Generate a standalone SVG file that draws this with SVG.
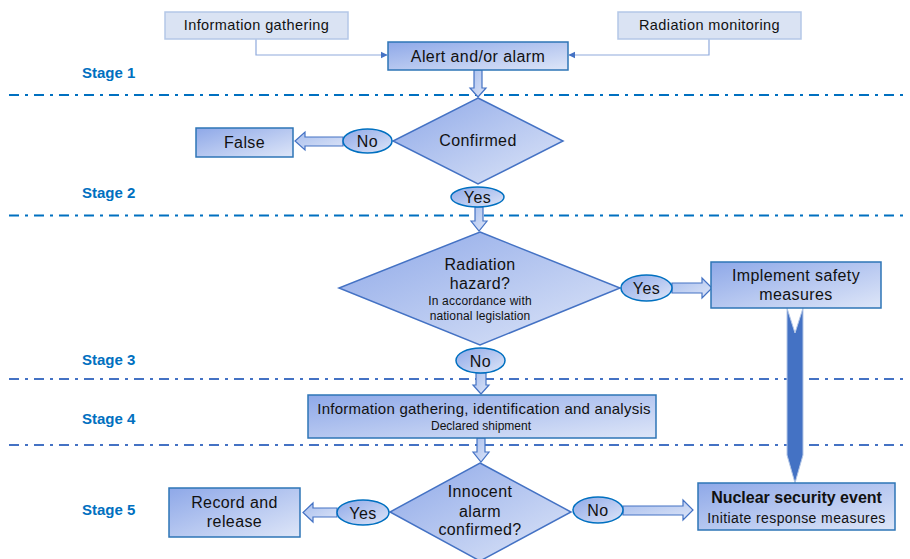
<svg xmlns="http://www.w3.org/2000/svg" width="910" height="559" viewBox="0 0 910 559">
<defs>
<linearGradient id="g" x1="0" y1="0" x2="1" y2="1">
<stop offset="0" stop-color="#8EA8E8"/>
<stop offset="1" stop-color="#DEE6F8"/>
</linearGradient>
<linearGradient id="ga" x1="0" y1="0" x2="1" y2="1">
<stop offset="0" stop-color="#A9BFEE"/>
<stop offset="1" stop-color="#DCE4F7"/>
</linearGradient>
<marker id="ah" viewBox="0 0 10 10" refX="9" refY="5" markerWidth="6" markerHeight="6" orient="auto">
<path d="M0,0 L10,5 L0,10 z" fill="#4472C4"/>
</marker>
<style>
text{font-family:"Liberation Sans",Arial,sans-serif;fill:#111;text-anchor:middle}
.stage{font-weight:bold;fill:#0070C0;font-size:15px;text-anchor:start}
.box{fill:url(#g);stroke:#2E75B6;stroke-width:1.5}
.ell{fill:url(#g);stroke:#0070C0;stroke-width:1.5}
.src{fill:#DAE3F3;stroke:#B4C7E7;stroke-width:1.5}
.dia{fill:url(#g);stroke:#4472C4;stroke-width:1.5}
.blk{fill:url(#ga);stroke:#4472C4;stroke-width:1.2}
.thin{fill:none;stroke:#8FAADC;stroke-width:1.2}
.d1{stroke:#0070C0;stroke-width:2.2;stroke-dasharray:10 6 3 6;fill:none}
.d2{stroke:#4472C4;stroke-width:2.2;stroke-dasharray:10 6 3 6;fill:none}
.t16{font-size:16px;letter-spacing:0.4px}
</style>
</defs>
<rect width="910" height="559" fill="#fff"/>
<g id="stages">
<text class="stage" x="82" y="78">Stage 1</text>
<text class="stage" x="82" y="198">Stage 2</text>
<text class="stage" x="82" y="365">Stage 3</text>
<text class="stage" x="82" y="424">Stage 4</text>
<text class="stage" x="82" y="515">Stage 5</text>
<line class="d1" x1="9" y1="95" x2="905" y2="95"/>
<line class="d1" x1="9" y1="215.5" x2="905" y2="215.5"/>
<line class="d2" x1="9" y1="379" x2="905" y2="379"/>
<line class="d2" x1="9" y1="445" x2="905" y2="445"/>
</g>
<g id="connectors">
<polyline class="thin" points="256,39 256,55 387,55" marker-end="url(#ah)"/>
<polyline class="thin" points="709,39 709,55 569,55" marker-end="url(#ah)"/>
<polygon class="blk" points="474,70 482,70 482,88 486,88 478,97 470,88 474,88"/>
<polygon class="blk" points="343,137 305,137 305,132 295,141 305,150 305,146 343,146"/>
<polygon class="blk" points="475,207 483,207 483,221 487,221 479,231 471,221 475,221"/>
<polygon class="blk" points="672,283 702,283 702,278 712,288 702,298 702,293 672,293"/>
<polygon class="blk" points="476,373 486,373 486,385 489,385 481,394 473,385 476,385"/>
<polygon class="blk" points="477,438 485,438 485,452 489,452 481,462 473,452 477,452"/>
<polygon class="blk" points="337,508 313,508 313,503 303,512.5 313,522 313,517 337,517"/>
<polygon class="blk" points="623,506 683,506 683,500 693,510 683,520 683,515 623,515"/>
<polygon points="787,308 795,333 803,308 803,455 795,483 787,455" fill="#4472C4" stroke="#B4C7E7" stroke-width="1"/>
</g>
<g id="info-gathering-src">
<rect class="src" x="165" y="12" width="183" height="27"/>
<text x="256.5" y="30" font-size="14.5" letter-spacing="0.4">Information gathering</text>
</g>
<g id="radiation-monitoring-src">
<rect class="src" x="618" y="12" width="183" height="27"/>
<text x="709.5" y="30" font-size="14.5" letter-spacing="0.4">Radiation monitoring</text>
</g>
<g id="alert">
<rect class="box" x="388" y="42" width="180" height="28"/>
<text class="t16" x="478" y="62" letter-spacing="0.8">Alert and/or alarm</text>
</g>
<g id="confirmed">
<polygon class="dia" points="478,98 563,141 478,184 393,141"/>
<text class="t16" x="478" y="146">Confirmed</text>
</g>
<g id="no1">
<ellipse class="ell" cx="367.5" cy="141" rx="24.5" ry="12"/>
<text class="t16" x="367.5" y="147">No</text>
</g>
<g id="false">
<rect class="box" x="196" y="128" width="97" height="29"/>
<text class="t16" x="244.5" y="148" letter-spacing="0.8">False</text>
</g>
<g id="yes1">
<ellipse class="ell" cx="477.5" cy="197" rx="26.5" ry="10"/>
<text class="t16" x="477.5" y="203">Yes</text>
</g>
<g id="radiation-hazard">
<polygon class="dia" points="480,232 620,288 480,345 339,288"/>
<text class="t16" x="480" y="270">Radiation</text>
<text class="t16" x="480" y="289" letter-spacing="0.8">hazard?</text>
<text x="480" y="305" font-size="12" letter-spacing="0.2">In accordance with</text>
<text x="480" y="320" font-size="12" letter-spacing="0.1">national legislation</text>
</g>
<g id="yes2">
<ellipse class="ell" cx="646.5" cy="288" rx="25.5" ry="13"/>
<text class="t16" x="646.5" y="294">Yes</text>
</g>
<g id="implement">
<rect class="box" x="711" y="262" width="170" height="46"/>
<text class="t16" x="796" y="281" letter-spacing="0.6">Implement safety</text>
<text class="t16" x="796" y="300" letter-spacing="0.6">measures</text>
</g>
<g id="no2">
<ellipse class="ell" cx="480.5" cy="360.5" rx="24.5" ry="12.5"/>
<text class="t16" x="480.5" y="366.5">No</text>
</g>
<g id="analysis">
<rect class="box" x="308" y="395" width="348" height="43"/>
<text x="484" y="414" font-size="15" letter-spacing="0.25">Information gathering, identification and analysis</text>
<text x="481" y="430" font-size="12">Declared shipment</text>
</g>
<g id="innocent">
<polygon class="dia" points="480,463 571,512 480,561 390,512"/>
<text class="t16" x="480" y="497" letter-spacing="0.8">Innocent</text>
<text class="t16" x="480" y="517" letter-spacing="1">alarm</text>
<text class="t16" x="480" y="535">confirmed?</text>
</g>
<g id="yes3">
<ellipse class="ell" cx="363" cy="512.5" rx="26" ry="12.5"/>
<text class="t16" x="363" y="518.5">Yes</text>
</g>
<g id="record">
<rect class="box" x="169" y="488" width="131" height="49"/>
<text class="t16" x="234.5" y="508" letter-spacing="0.6">Record and</text>
<text class="t16" x="234.5" y="527" letter-spacing="0.6">release</text>
</g>
<g id="no3">
<ellipse class="ell" cx="598" cy="510" rx="25" ry="13"/>
<text class="t16" x="598" y="516">No</text>
</g>
<g id="nuclear">
<rect class="box" x="698" y="483" width="197" height="47"/>
<text x="796.5" y="503" font-size="16" font-weight="bold">Nuclear security event</text>
<text x="796.5" y="523" font-size="14" letter-spacing="0.4">Initiate response measures</text>
</g>
</svg>
